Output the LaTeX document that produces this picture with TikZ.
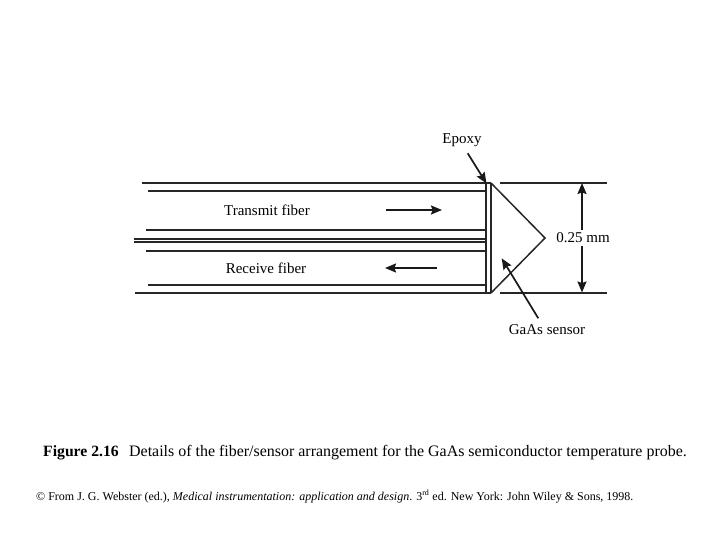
\documentclass[tikz,border=0pt]{standalone}
\usepackage{fontspec}
\setmainfont{Liberation Serif}
\usetikzlibrary{arrows.meta}
\tikzset{
  wire/.style={line width=1.5pt,black!85},
  pointer/.style={line width=1.7pt,black!90,-{Stealth[length=11pt,width=9pt,inset=1.5pt]}},
  lab/.style={inner sep=0pt,font=\fontsize{15}{17}\selectfont},
  captext/.style={inner sep=0pt,anchor=base west},
}
\begin{document}
\begin{tikzpicture}[x=1pt,y=-1pt]
\useasboundingbox (0,0) rectangle (720,540);
% fibre walls
\draw[wire] (142,183) -- (491,183);
\draw[wire] (148,191) -- (486,191);
\draw[wire] (145.5,230) -- (486,230);
\draw[wire] (134,239) -- (486,239);
\draw[wire] (134,242) -- (486,242);
\draw[wire] (145.5,251) -- (486,251);
\draw[wire] (148,285) -- (486,285);
\draw[wire] (135,293) -- (491,293);
% epoxy layer and sensor
\draw[wire] (486,183) -- (486,293);
\draw[wire] (491,183) -- (491,293);
\coordinate (apex) at (545,238);
\draw[wire] (491,183) -- (apex) -- (491,293);
% dimension lines
\draw[wire] (500,183) -- (606.7,183);
\draw[wire] (500,293) -- (606.7,293);
% labels
\node[lab] (tx) at (267,210) {Transmit fiber};
\node[lab] (rx) at (266,268) {Receive fiber};
\node[lab] (epoxy) at (462,140.5) {Epoxy};
\node[lab] (dim) at (583,238) {0.25 mm};
\node[lab] (gaas) at (547,329.5) {GaAs sensor};
% arrows
\coordinate (txa) at (386,210); \coordinate (txb) at (442,210);
\coordinate (rxa) at (437,268); \coordinate (rxb) at (385,268);
\draw[pointer] (txa) -- (txb);
\draw[pointer] (rxa) -- (rxb);
\coordinate (epa) at (467.7,153.3); \coordinate (epb) at (486.5,183.5);
\draw[pointer] (epa) -- (epb);
\coordinate (gaa) at (538.3,318.3); \coordinate (gab) at (501.7,258.3);
\draw[pointer] (gaa) -- (gab);
\coordinate (dt) at (582,183); \coordinate (db) at (582,292.5);
\coordinate (dn) at (582,230); \coordinate (ds) at (582,246);
\draw[pointer] (dn) -- (dt);
\draw[pointer] (ds) -- (db);
% caption
\node[captext] (c1) at (43,456) {\fontsize{15.7}{18}\selectfont\textbf{Figure 2.16}};
\node[captext] (c2) at (129,456) {\fontsize{15.95}{18}\selectfont Details of the fiber/sensor arrangement for the GaAs semiconductor temperature probe.};
\node[captext] (c3) at (36,500) {\fontsize{12}{14}\selectfont © From J. G. Webster (ed.), \textit{Medical instrumentation: application and design}. 3\textsuperscript{rd} ed. New York: John Wiley \& Sons, 1998.};
\end{tikzpicture}
\end{document}
